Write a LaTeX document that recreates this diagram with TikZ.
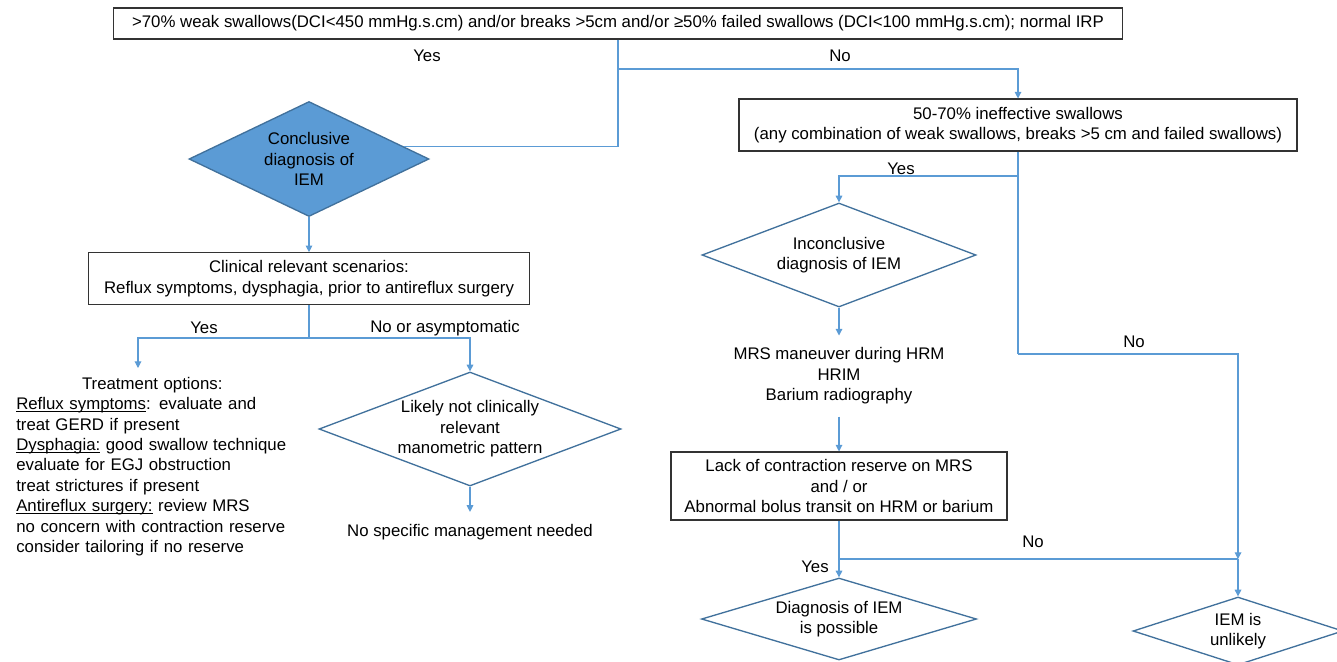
\documentclass[tikz,border=0pt]{standalone}
\usepackage{fontspec}
\setmainfont{Liberation Sans}
\usepackage{xcolor}
\usepackage{tikz}
\usetikzlibrary{arrows.meta, positioning, shapes.geometric, calc}

\definecolor{iemblue}{HTML}{5B9BD5}
\definecolor{iemedge}{HTML}{41719C}
% underline close to the baseline
\newcommand{\ulbox}[1]{\leavevmode\setbox0\hbox{#1}\rlap{\rule[-1.6pt]{\wd0}{0.6pt}}\box0\relax}

\begin{document}
\begin{tikzpicture}[
  x=0.75pt, y=-0.75pt,
  every node/.style={font=\fontsize{12.6}{15.3}\selectfont},
  block/.style={draw=black!80, line width=0.8pt, align=center, inner sep=0pt},
  decision/.style={diamond, draw=iemedge, line width=1pt, align=center, inner sep=0pt},
  note/.style={align=center, inner sep=9pt},
  answer/.style={inner sep=0pt},
  link/.style={draw=iemblue, line width=0.8pt},
  arrow/.style={link, -{Triangle[length=5pt, width=5pt]}}
]
  \useasboundingbox (0,0) rectangle (1337,661);

  % criteria and left branch
  \node[block, minimum width=756.75pt, minimum height=23.25pt] (crit) at (618,23.5)
    {>70\% weak swallows(DCI<450 mmHg.s.cm) and/or breaks >5cm and/or ≥50\% failed swallows (DCI<100 mmHg.s.cm); normal IRP};
  \node[decision, fill=iemblue, minimum width=180pt, minimum height=86.25pt, aspect=2.09] (conc) at (309,159)
    {Conclusive\\diagnosis of\\IEM};
  \node[block, below=26.25pt of conc, minimum width=330.75pt, minimum height=39pt] (clin)
    {Clinical relevant scenarios:\\Reflux symptoms, dysphagia, prior to antireflux surgery};
  \node[anchor=west, text width=204pt, align=left, inner sep=0pt] (treat) at (16,466.5)
    {\makebox[\hsize]{Treatment options:}\\
     \ulbox{Reflux symptoms}: evaluate and\\
     treat GERD if present\\
     \ulbox{Dysphagia:} good swallow technique\\
     evaluate for EGJ obstruction\\
     treat strictures if present\\
     \ulbox{Antireflux surgery:} review MRS\\
     no concern with contraction reserve\\
     consider tailoring if no reserve};
  \node[decision, minimum width=226.5pt, minimum height=85.5pt, aspect=2.65] (likely) at (470,429)
    {Likely not clinically\\relevant\\manometric pattern};
  \node[note] (nomgmt) at (470,532) {No specific management needed};

  % right branch
  \node[block, minimum width=418.5pt, minimum height=39pt] (ineff) at (1018,125)
    {50-70\% ineffective swallows\\(any combination of weak swallows, breaks >5 cm and failed swallows)};
  \node[decision, minimum width=205.5pt, minimum height=78pt, aspect=2.63] (incon) at (839,255)
    {Inconclusive\\diagnosis of IEM};
  \node[note] (tests) at (839,376) {MRS maneuver during HRM\\HRIM\\Barium radiography};
  \node[block, minimum width=252pt, minimum height=51pt] (lack) at (839,486)
    {Lack of contraction reserve on MRS\\and / or\\Abnormal bolus transit on HRM or barium};
  \node[decision, minimum width=206.25pt, minimum height=61.5pt, aspect=3.34] (possible) at (839,619)
    {Diagnosis of IEM\\is possible};
  \node[decision, minimum width=157.5pt, minimum height=51pt, aspect=3.09] (unlikely) at (1238,631)
    {IEM is\\unlikely};

  % junctions
  \coordinate (j1) at (618,69);
  \coordinate (j2) at ($(conc.north)!0.79!(conc.east)$);
  \coordinate (j3) at (309,338);
  \coordinate (treatin) at (138,368);
  \coordinate (j5) at (1018,176);
  \coordinate (j4) at (1018,354);
  \coordinate (j6) at (1238,559);
  \coordinate (j7) at (839,559);

  \draw[arrow] (crit.south) -- (j1) -| (ineff);
  \draw[link] (j1) |- (j2);
  \draw[arrow] (conc) -- (clin);
  \draw[link] (clin) -- (j3);
  \draw[arrow] (j3) -| (treatin);
  \draw[arrow] (j3) -| (likely);
  \draw[arrow] (likely) -- (nomgmt);
  \draw[link] (ineff.south) -- (j4);
  \draw[arrow] (j5) -| (incon);
  \draw[arrow] (j4) -| (j6);
  \draw[arrow] (j6) -- (unlikely);
  \draw[arrow] (incon) -- (tests);
  \draw[arrow] (tests) -- (lack);
  \draw[link] (lack) -- (j7) -- (j6);
  \draw[arrow] (j7) -- (possible);

  % answers
  \node[answer] (yes1) at (427,56) {Yes};
  \node[answer] (no1) at (840,56) {No};
  \node[answer] (yes2) at (204,328) {Yes};
  \node[answer] (no2) at (445,328) {No or asymptomatic};
  \node[answer] (yes3) at (901,169) {Yes};
  \node[answer] (no3) at (1134,342) {No};
  \node[answer] (no4) at (1033,542) {No};
  \node[answer] (yes4) at (815,567) {Yes};
\end{tikzpicture}
\end{document}
